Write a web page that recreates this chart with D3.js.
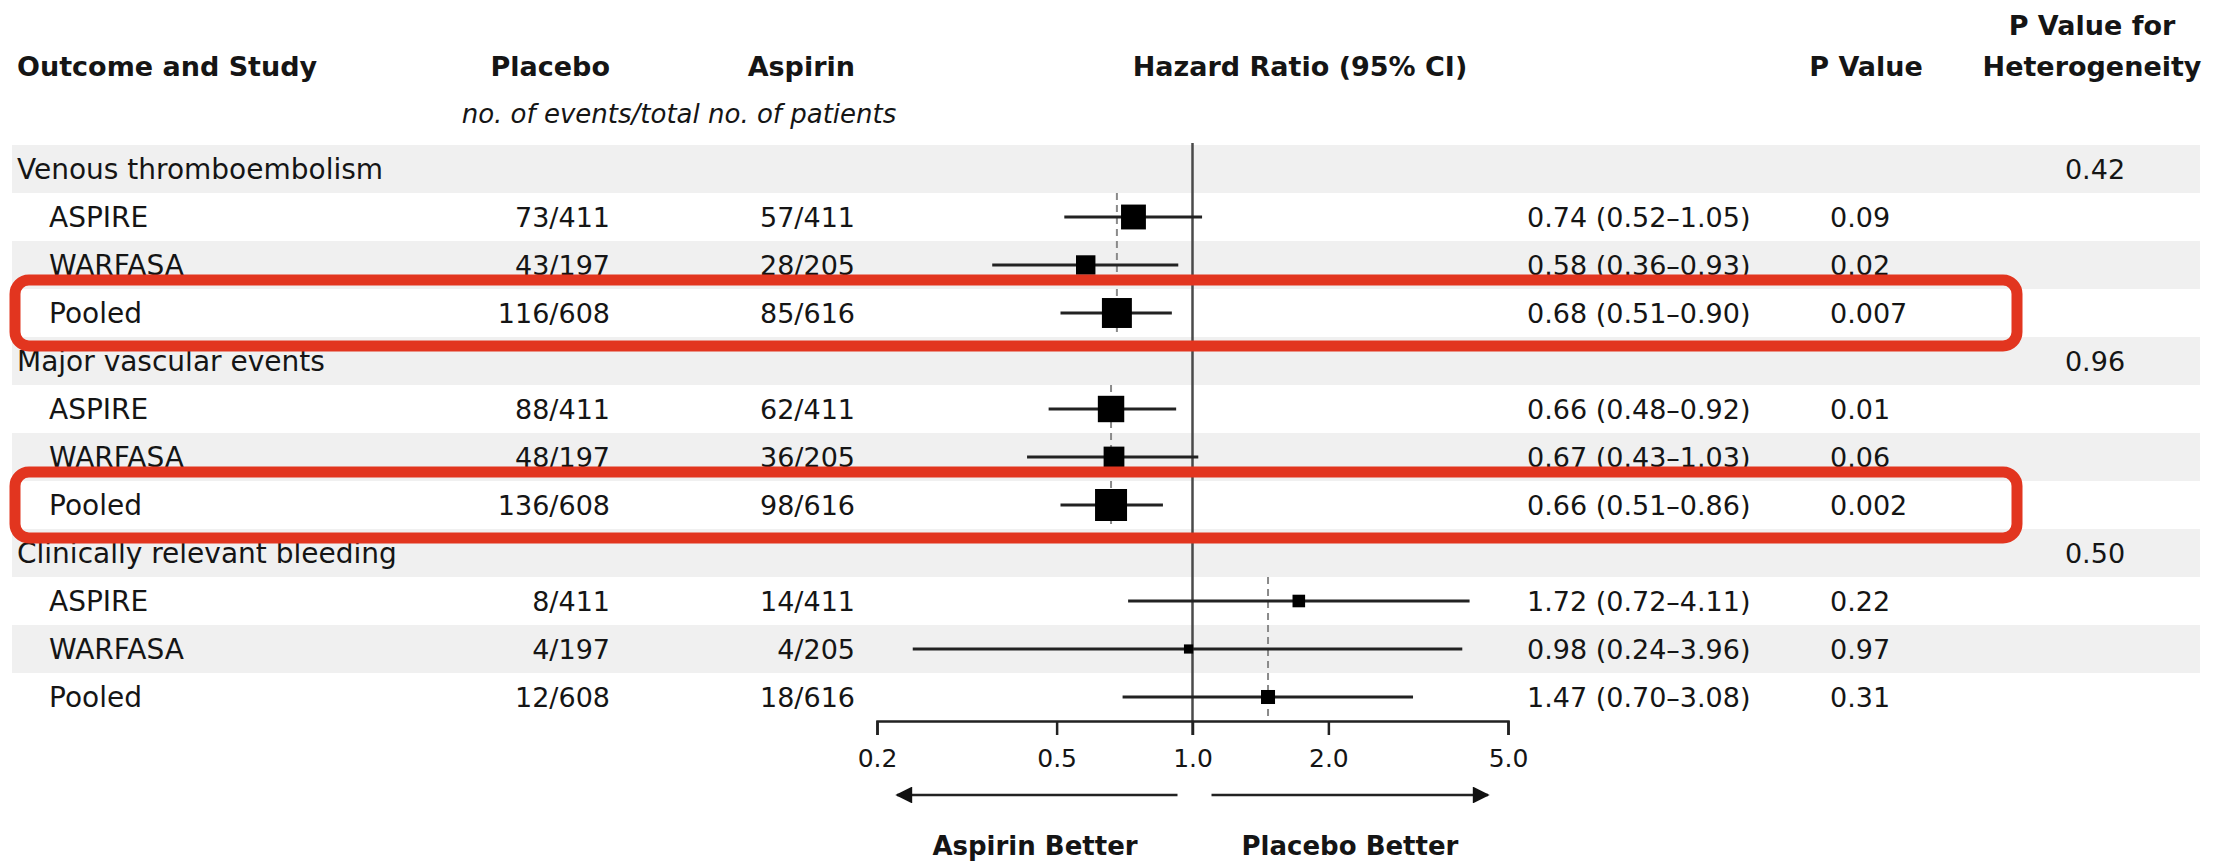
<!DOCTYPE html>
<html>
<head>
<meta charset="utf-8">
<script src="https://cdn.jsdelivr.net/npm/d3@7"></script>
<style>
  body { margin: 0; background: #fff; }
  svg text { font-family: "DejaVu Sans", sans-serif; fill: #151515; }
</style>
</head>
<body>
<div id="chart"></div>
<script>
const outcomes = ["Venous thromboembolism", "Major vascular events", "Clinically relevant bleeding"];
const studies = ["ASPIRE", "WARFASA", "Pooled"];

const placebo = [
  ["73/411", "43/197", "116/608"],
  ["88/411", "48/197", "136/608"],
  ["8/411", "4/197", "12/608"]
];
const aspirin = [
  ["57/411", "28/205", "85/616"],
  ["62/411", "36/205", "98/616"],
  ["14/411", "4/205", "18/616"]
];
const hazard = [
  [0.74, 0.58, 0.68],
  [0.66, 0.67, 0.66],
  [1.72, 0.98, 1.47]
];
const ciLow = [
  [0.52, 0.36, 0.51],
  [0.48, 0.43, 0.51],
  [0.72, 0.24, 0.70]
];
const ciHigh = [
  [1.05, 0.93, 0.90],
  [0.92, 1.03, 0.86],
  [4.11, 3.96, 3.08]
];
const pValues = [
  ["0.09", "0.02", "0.007"],
  ["0.01", "0.06", "0.002"],
  ["0.22", "0.97", "0.31"]
];
const pHetero = ["0.42", "0.96", "0.50"];
const tickValues = [0.2, 0.5, 1.0, 2.0, 5.0];

const width = 2213, height = 862;
const fmt2 = d3.format(".2f");

// flatten into table rows
const rows = [];
outcomes.forEach((o, g) => {
  rows.push({ type: "head", label: o, group: g });
  studies.forEach((s, k) => {
    const ev = +placebo[g][k].split("/")[0] + +aspirin[g][k].split("/")[0];
    rows.push({
      type: "study", label: s, group: g, k,
      pl: placebo[g][k], as: aspirin[g][k],
      hr: hazard[g][k], lo: ciLow[g][k], hi: ciHigh[g][k],
      p: pValues[g][k], events: ev
    });
  });
});
rows.forEach((r, i) => r.index = i);

const svg = d3.select("#chart").append("svg")
  .attr("width", width).attr("height", height);

const x = d3.scaleLog().domain([0.2, 5]).range([877, 1508]);
const y = d3.scaleLinear().domain([0, rows.length]).range([145, 721]);
const rowC = i => y(i + 0.5);
const size = d3.scaleSqrt()
  .domain([0, d3.max(rows.filter(r => r.type === "study"), r => r.events)])
  .range([4, 32]);

// zebra bands
svg.append("g").selectAll("rect")
  .data(rows.filter(r => r.index % 2 === 0))
  .join("rect")
  .attr("x", 12).attr("width", 2188)
  .attr("y", r => y(r.index)).attr("height", r => y(r.index + 1) - y(r.index))
  .attr("fill", "#f0f0f0");

// headers
const hdr = svg.append("g").attr("font-weight", "bold").attr("font-size", 27);
hdr.append("text").attr("x", 17).attr("y", 76).text("Outcome and Study");
hdr.append("text").attr("x", 610).attr("y", 76).attr("text-anchor", "end").text("Placebo");
hdr.append("text").attr("x", 855).attr("y", 76).attr("text-anchor", "end").text("Aspirin");
hdr.append("text").attr("x", 1300).attr("y", 76).attr("text-anchor", "middle").text("Hazard Ratio (95% CI)");
hdr.append("text").attr("x", 1866).attr("y", 76).attr("text-anchor", "middle").text("P Value");
hdr.append("text").attr("x", 2092).attr("y", 35).attr("text-anchor", "middle").text("P Value for");
hdr.append("text").attr("x", 2092).attr("y", 76).attr("text-anchor", "middle").text("Heterogeneity");
svg.append("text").attr("x", 679).attr("y", 123).attr("text-anchor", "middle")
  .attr("font-style", "italic").attr("font-size", 26)
  .text("no. of events/total no. of patients");

// table text
const tbl = svg.append("g").attr("font-size", 27);
rows.forEach(r => {
  const cy = rowC(r.index);
  if (r.type === "head") {
    tbl.append("text").attr("x", 17).attr("y", cy).attr("dy", "0.36em").attr("font-size", 28).text(r.label);
    tbl.append("text").attr("x", 2095).attr("y", cy).attr("dy", "0.36em").attr("text-anchor", "middle")
      .text(pHetero[r.group]);
  } else {
    tbl.append("text").attr("x", 49).attr("y", cy).attr("dy", "0.36em").attr("font-size", 28).text(r.label);
    tbl.append("text").attr("x", 610).attr("y", cy).attr("dy", "0.36em").attr("text-anchor", "end").text(r.pl);
    tbl.append("text").attr("x", 855).attr("y", cy).attr("dy", "0.36em").attr("text-anchor", "end").text(r.as);
    tbl.append("text").attr("x", 1527).attr("y", cy).attr("dy", "0.36em")
      .text(`${fmt2(r.hr)} (${fmt2(r.lo)}\u2013${fmt2(r.hi)})`);
    tbl.append("text").attr("x", 1830).attr("y", cy).attr("dy", "0.36em").text(r.p);
  }
});

// dashed pooled reference per outcome
const plot = svg.append("g");
outcomes.forEach((o, g) => {
  const first = rows.find(r => r.group === g && r.k === 0);
  const pooled = rows.find(r => r.group === g && r.k === 2);
  plot.append("line")
    .attr("x1", x(pooled.hr)).attr("x2", x(pooled.hr))
    .attr("y1", y(first.index)).attr("y2", y(pooled.index + 1))
    .attr("stroke", "#8a8a8a").attr("stroke-width", 2)
    .attr("stroke-dasharray", "7,5");
});

// line of no effect
plot.append("line")
  .attr("x1", x(1)).attr("x2", x(1))
  .attr("y1", y(0) - 2).attr("y2", y(rows.length) + 14)
  .attr("stroke", "#4a4a4a").attr("stroke-width", 2.5);

// CIs and squares
const studyRows = rows.filter(r => r.type === "study");
plot.selectAll("line.ci").data(studyRows).join("line")
  .attr("class", "ci")
  .attr("x1", r => x(r.lo)).attr("x2", r => x(r.hi))
  .attr("y1", r => rowC(r.index)).attr("y2", r => rowC(r.index))
  .attr("stroke", "#222").attr("stroke-width", 2.8);
plot.selectAll("rect.pt").data(studyRows).join("rect")
  .attr("class", "pt")
  .attr("x", r => x(r.hr) - size(r.events) / 2)
  .attr("y", r => rowC(r.index) - size(r.events) / 2)
  .attr("width", r => size(r.events)).attr("height", r => size(r.events))
  .attr("fill", "#000");

// axis
const axisY = y(rows.length);
const ax = svg.append("g").attr("transform", `translate(0,${axisY})`)
  .call(d3.axisBottom(x).tickValues(tickValues).tickFormat(d3.format(".1f"))
    .tickSize(14).tickSizeOuter(14).tickPadding(14));
ax.select(".domain").attr("stroke", "#222").attr("stroke-width", 2.5);
ax.selectAll(".tick line").attr("stroke", "#222").attr("stroke-width", 2.5);
ax.selectAll(".tick text").attr("font-size", 25).attr("fill", "#151515")
  .style("font-family", "DejaVu Sans, sans-serif");

// direction arrows
const defs = svg.append("defs");
defs.append("marker").attr("id", "head")
  .attr("viewBox", "0 0 10 10").attr("refX", 9).attr("refY", 5)
  .attr("markerWidth", 9).attr("markerHeight", 6.5).attr("markerUnits", "strokeWidth")
  .attr("orient", "auto")
  .append("path").attr("d", "M0,0L10,5L0,10Z").attr("fill", "#111");

const arrowY = axisY + 74;
svg.append("line")
  .attr("x1", x(1) - 15).attr("x2", x(0.2) + 20)
  .attr("y1", arrowY).attr("y2", arrowY)
  .attr("stroke", "#222").attr("stroke-width", 2.6).attr("marker-end", "url(#head)");
svg.append("line")
  .attr("x1", x(1) + 19).attr("x2", x(5) - 20)
  .attr("y1", arrowY).attr("y2", arrowY)
  .attr("stroke", "#222").attr("stroke-width", 2.6).attr("marker-end", "url(#head)");

svg.append("text").attr("x", 1035).attr("y", 855).attr("text-anchor", "middle")
  .attr("font-weight", "bold").attr("font-size", 26).text("Aspirin Better");
svg.append("text").attr("x", 1350).attr("y", 855).attr("text-anchor", "middle")
  .attr("font-weight", "bold").attr("font-size", 26).text("Placebo Better");

// red highlight boxes around pooled rows of the first two outcomes
const pooledRows = rows.filter(r => r.type === "study" && r.k === 2 && r.group < 2);
svg.append("g").selectAll("rect").data(pooledRows).join("rect")
  .attr("x", 15).attr("width", 2002)
  .attr("y", r => rowC(r.index) - 33).attr("height", 66)
  .attr("rx", 14).attr("ry", 14)
  .attr("fill", "none").attr("stroke", "#e2351f").attr("stroke-width", 11);
</script>
</body>
</html>
